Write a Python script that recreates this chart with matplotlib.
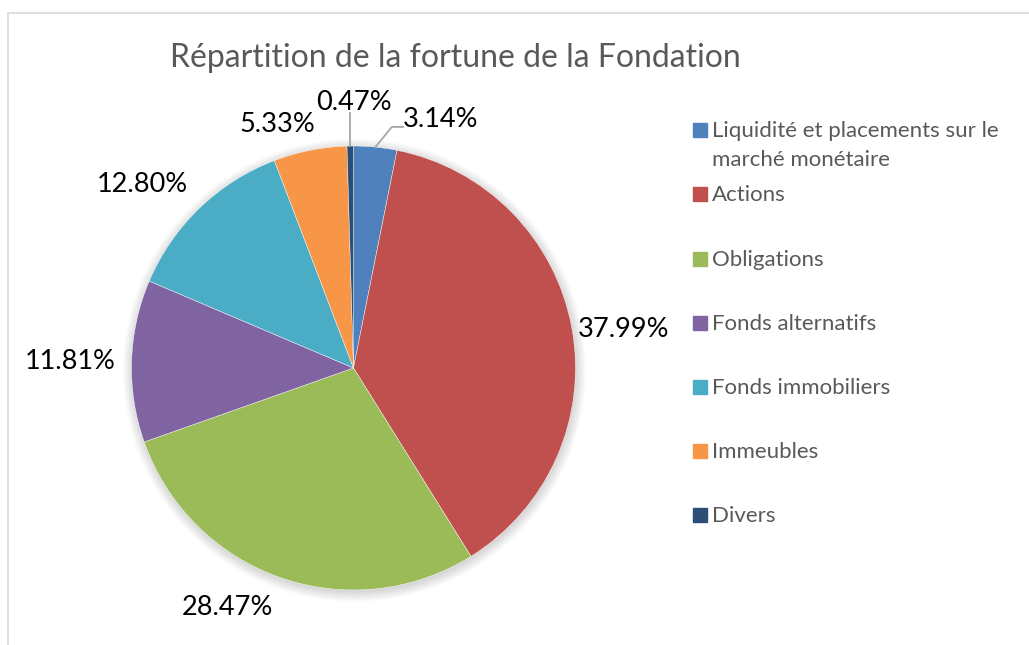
import matplotlib
matplotlib.use("Agg")
import matplotlib.pyplot as plt
import numpy as np
from matplotlib.patches import Rectangle, Circle
from matplotlib.lines import Line2D

categories = ["Liquidité et placements sur le\nmarché monétaire", "Actions", "Obligations",
              "Fonds alternatifs", "Fonds immobiliers", "Immeubles", "Divers"]
values = [3.14, 37.99, 28.47, 11.81, 12.80, 5.33, 0.47]
labels = ["3.14%", "37.99%", "28.47%", "11.81%", "12.80%", "5.33%", "0.47%"]
colors = ["#4F81BD", "#C0504D", "#9BBB59", "#8064A2", "#4BACC6", "#F79646", "#2C4D75"]
title = "Répartition de la fortune de la Fondation"

# layout (pie units, radius = 1)
label_pos = [(0.39, 1.12), (1.215, 0.175), (-0.57, -1.08), (-1.277, 0.03),
             (-0.952, 0.828), (-0.345, 1.098), (0.0, 1.196)]

W, H = 1029, 645
cx, cy, R = 353.5, 368.0, 222.0

plt.rcParams['font.family'] = ['Lato', 'DejaVu Sans']
fig = plt.figure(figsize=(W / 100, H / 100), dpi=100)
ax = fig.add_axes([0, 0, 1, 1])
ax.set_axis_off()

# soft shadow
for k in range(8):
    ax.add_patch(Circle((0.004, -0.01), 1.0 + 0.006 * k, color="black", alpha=0.018, lw=0, zorder=0))

wedges, _ = ax.pie(values, colors=colors, startangle=90, counterclock=False,
                   radius=1.0, wedgeprops=dict(linewidth=0.3, edgecolor="white"))
for w in wedges:
    w.set_zorder(2)

ax.set_xlim(-cx / R, (W - cx) / R)
ax.set_ylim(-(H - cy) / R, cy / R)
ax.set_aspect('auto')

for (lx, ly), t in zip(label_pos, labels):
    ax.text(lx, ly, t, ha="center", va="center", fontsize=19.5, color="black", zorder=5)

# leader lines
cum = np.cumsum([0] + values[:-1])
mids = [90 - 3.6 * (c + v / 2) for c, v in zip(cum, values)]
a0 = np.deg2rad(mids[0])
ax.add_line(Line2D([np.cos(a0), 0.173, 0.223], [np.sin(a0), 1.086, 1.086], color="#A6A6A6", lw=1.3, zorder=4))
a6 = np.deg2rad(mids[6])
ax.add_line(Line2D([np.cos(a6), np.cos(a6)], [np.sin(a6), 1.15], color="#A6A6A6", lw=1.3, zorder=4))

# title
fig.text(455 / W, 1 - 58 / H, title, ha="center", va="center", fontsize=23, color="#595959")

# legend
leg_y = [130, 194, 258.7, 322.7, 386.7, 450.7, 515]
for yc, cat, col in zip(leg_y, categories, colors):
    fig.patches.append(Rectangle(((693) / W, 1 - (yc + 7) / H), 14 / W, 14 / H,
                                 transform=fig.transFigure, color=col, figure=fig))
    for i, line in enumerate(cat.split("\n")):
        fig.text(712 / W, 1 - (yc + 7.5 + 28 * i) / H, line, ha="left", va="baseline",
                 fontsize=16, color="#595959")

# chart border
fig.add_artist(Line2D([8 / W, 8 / W], [0, 1 - 13 / H], transform=fig.transFigure, color="#D9D9D9", lw=1.2))
fig.add_artist(Line2D([8 / W, 1], [1 - 13 / H, 1 - 13 / H], transform=fig.transFigure, color="#D9D9D9", lw=1.2))

fig.savefig("out.png", dpi=100, facecolor="white")
